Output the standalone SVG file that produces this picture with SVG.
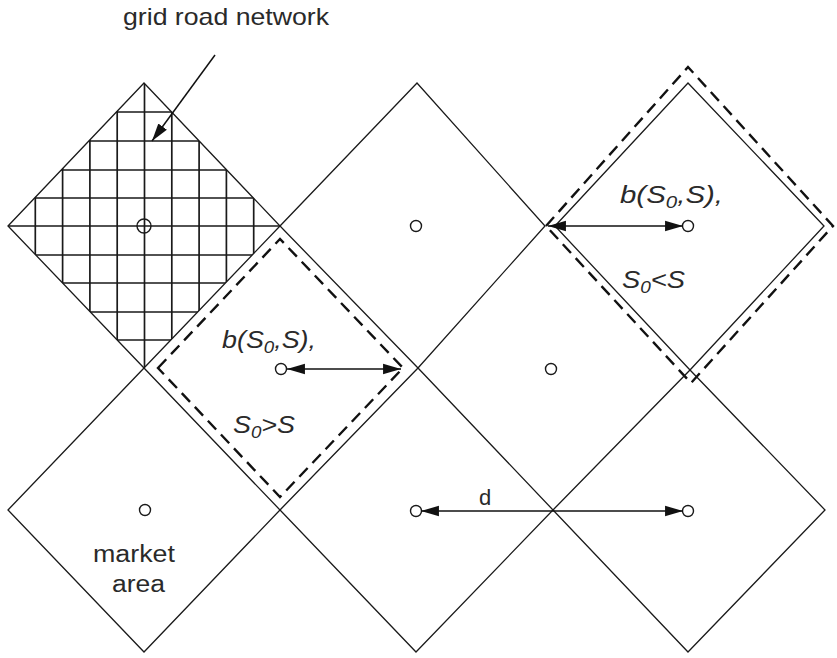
<svg xmlns="http://www.w3.org/2000/svg" width="837" height="658" viewBox="0 0 837 658">
<style>
.cell{fill:none;stroke:#1a1a1a;stroke-width:1.3}
.grid{stroke:#1a1a1a;stroke-width:1.7}
.dash{fill:none;stroke:#111;stroke-width:2.4;stroke-dasharray:12 7}
.ctr{fill:#fff;stroke:#1a1a1a;stroke-width:1.4}
.arr{stroke:#111;stroke-width:1.5;fill:none}
.lbl{font-family:"Liberation Sans",Arial,sans-serif;fill:#2a2a2a}
.it{font-family:"Liberation Sans",Arial,sans-serif;font-style:italic;fill:#2a2a2a}
</style>
<defs>
<marker id="ah" markerUnits="userSpaceOnUse" markerWidth="19" markerHeight="12" refX="17" refY="5" orient="auto-start-reverse" viewBox="0 0 18 10">
<path d="M0,0 L17,5 L0,10 z" fill="#111"/>
</marker>
<clipPath id="clipTL"><polygon points="8,226 144,83 280,226 144,368"/></clipPath>
</defs>
<rect width="837" height="658" fill="#fff"/>

<g id="area-top-left">
<g clip-path="url(#clipTL)" class="grid">
<path d="M35.3,80V370M62.6,80V370M89.9,80V370M117.2,80V370M144.5,80V370M171.8,80V370M199.1,80V370M226.4,80V370M253.7,80V370"/>
<path d="M5,112H283M5,141H283M5,170H283M5,198H283M5,226H283M5,255H283M5,283H283M5,312H283M5,340H283"/>
</g>
<polygon class="cell" points="8,226 144,83 280,226 144,368"/>
<circle cx="144" cy="226" r="7" fill="none" stroke="#1a1a1a" stroke-width="1.4"/>
</g>

<g id="area-top-middle">
<polygon class="cell" points="280,226 417,83 545,226 418,368"/>
<circle class="ctr" cx="416" cy="226" r="5.5"/>
</g>

<g id="area-top-right">
<polygon class="cell" points="555,226 688,83 824,226 690,370"/>
<polygon class="dash" points="546,226 688,67 833,226 691,383"/>
<circle class="ctr" cx="688" cy="226" r="5.5"/>
</g>

<g id="area-mid-left">
<polygon class="dash" points="158,368 280,239 403,368 280,497"/>
<circle class="ctr" cx="281" cy="369" r="5.5"/>
</g>

<g id="area-mid-right">
<circle class="ctr" cx="551" cy="369" r="5.5"/>
</g>

<g id="area-bottom-left">
<polygon class="cell" points="8,510 144,368 280,510 144,652"/>
<circle class="ctr" cx="145" cy="510" r="5.5"/>
</g>

<g id="area-bottom-middle">
<polygon class="cell" points="280,510 418,368 553,510 416,652"/>
<circle class="ctr" cx="416" cy="511" r="5.5"/>
</g>

<g id="area-bottom-right">
<polygon class="cell" points="553,510 690,370 825,510 688,652"/>
<circle class="ctr" cx="688" cy="511" r="5.5"/>
</g>

<g id="connectors">
<line class="arr" x1="215" y1="55" x2="152" y2="141" marker-end="url(#ah)"/>
<line class="arr" x1="548" y1="226" x2="683" y2="226" marker-start="url(#ah)" marker-end="url(#ah)"/>
<line class="arr" x1="287" y1="369" x2="401" y2="369" marker-start="url(#ah)" marker-end="url(#ah)"/>
<line class="arr" x1="421" y1="511" x2="683" y2="511" marker-start="url(#ah)" marker-end="url(#ah)"/>
</g>

<g id="labels">
<text class="lbl" x="123" y="25" font-size="24" textLength="206" lengthAdjust="spacingAndGlyphs">grid road network</text>
<text class="it" x="620" y="203" font-size="23" textLength="103" lengthAdjust="spacingAndGlyphs">b(S<tspan font-size="16" dy="5">0</tspan><tspan dy="-5">,S),</tspan></text>
<text class="it" x="622" y="288" font-size="23" textLength="63" lengthAdjust="spacingAndGlyphs">S<tspan font-size="16" dy="5">0</tspan><tspan dy="-5">&lt;S</tspan></text>
<text class="it" x="222" y="348" font-size="23" textLength="94" lengthAdjust="spacingAndGlyphs">b(S<tspan font-size="16" dy="5">0</tspan><tspan dy="-5">,S),</tspan></text>
<text class="it" x="233" y="433" font-size="23" textLength="62" lengthAdjust="spacingAndGlyphs">S<tspan font-size="16" dy="5">0</tspan><tspan dy="-5">&gt;S</tspan></text>
<text class="lbl" x="479" y="505" font-size="22">d</text>
<text class="lbl" x="93" y="562" font-size="23" textLength="82" lengthAdjust="spacingAndGlyphs">market</text>
<text class="lbl" x="112" y="592" font-size="23" textLength="53" lengthAdjust="spacingAndGlyphs">area</text>
</g>
</svg>
